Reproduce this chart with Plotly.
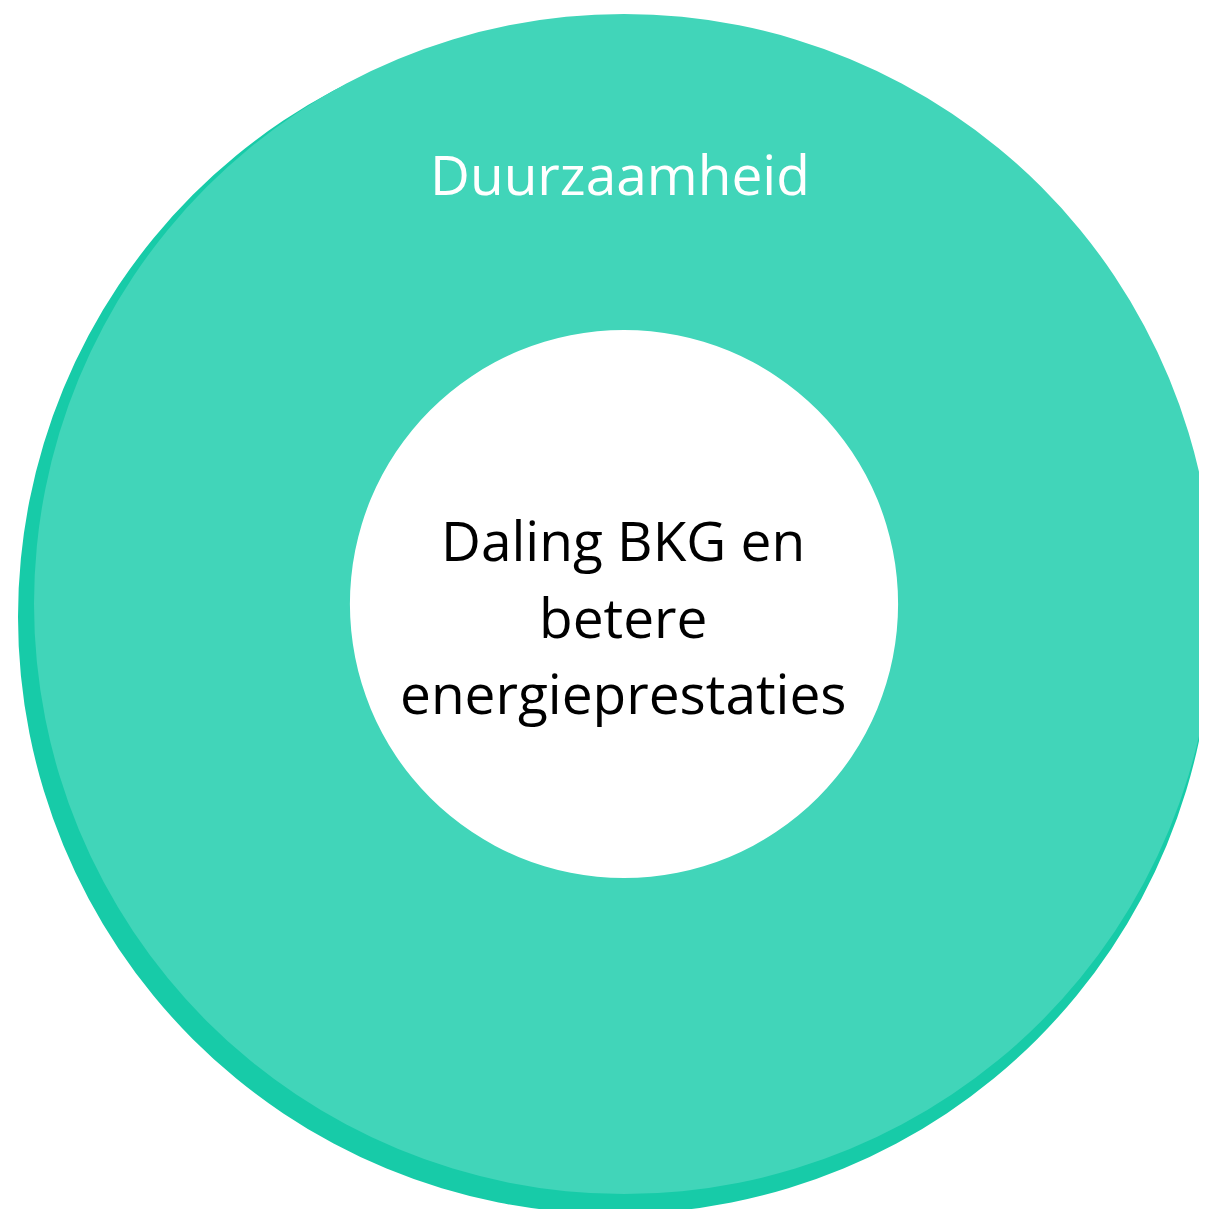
import plotly.graph_objects as go

# Data
categories = ["Duurzaamheid"]
values = [100]
center_lines = ["Daling BKG en", "betere", "energieprestaties"]

W, H = 1210, 1210
OFF = 8  # default body margin of the html page


def px_dom(x0, x1, y0, y1):
    return dict(x=[x0 / W, x1 / W], y=[1 - y1 / H, 1 - y0 / H])


def ax(x):
    return (x - OFF) / W


def ay(y):
    return 1 - (y - OFF) / H


LIGHT = "#41D5B9"
DARK = "#17CBA8"

fig = go.Figure()
# shadow ring (behind)
fig.add_trace(go.Pie(
    labels=categories, values=values, hole=0.5, sort=False,
    marker=dict(colors=[DARK], line=dict(width=0)),
    textinfo="none", hoverinfo="skip", showlegend=False,
    domain=px_dom(10, 1204, 12, 1206),
))
# main ring
fig.add_trace(go.Pie(
    labels=categories, values=values, hole=274 / 590, sort=False,
    marker=dict(colors=[LIGHT], line=dict(width=0)),
    textinfo="none", hoverinfo="skip", showlegend=False,
    domain=px_dom(26, 1206, 6, 1186),
))

FONT = "Open Sans, Lato, sans-serif"
fig.add_annotation(x=ax(620), y=ay(174), xref="paper", yref="paper",
                   text=categories[0], showarrow=False,
                   font=dict(family=FONT, size=55, color="white"),
                   xanchor="center", yanchor="middle")
for txt, yy in zip(center_lines, [539, 616, 692]):
    fig.add_annotation(x=ax(623), y=ay(yy), xref="paper", yref="paper",
                       text=txt, showarrow=False,
                       font=dict(family=FONT, size=55, color="black"),
                       xanchor="center", yanchor="middle")

fig.update_layout(width=W, height=H, margin=dict(l=0, r=0, t=0, b=0),
                  paper_bgcolor="white", plot_bgcolor="white")
fig.write_html("out.html")
